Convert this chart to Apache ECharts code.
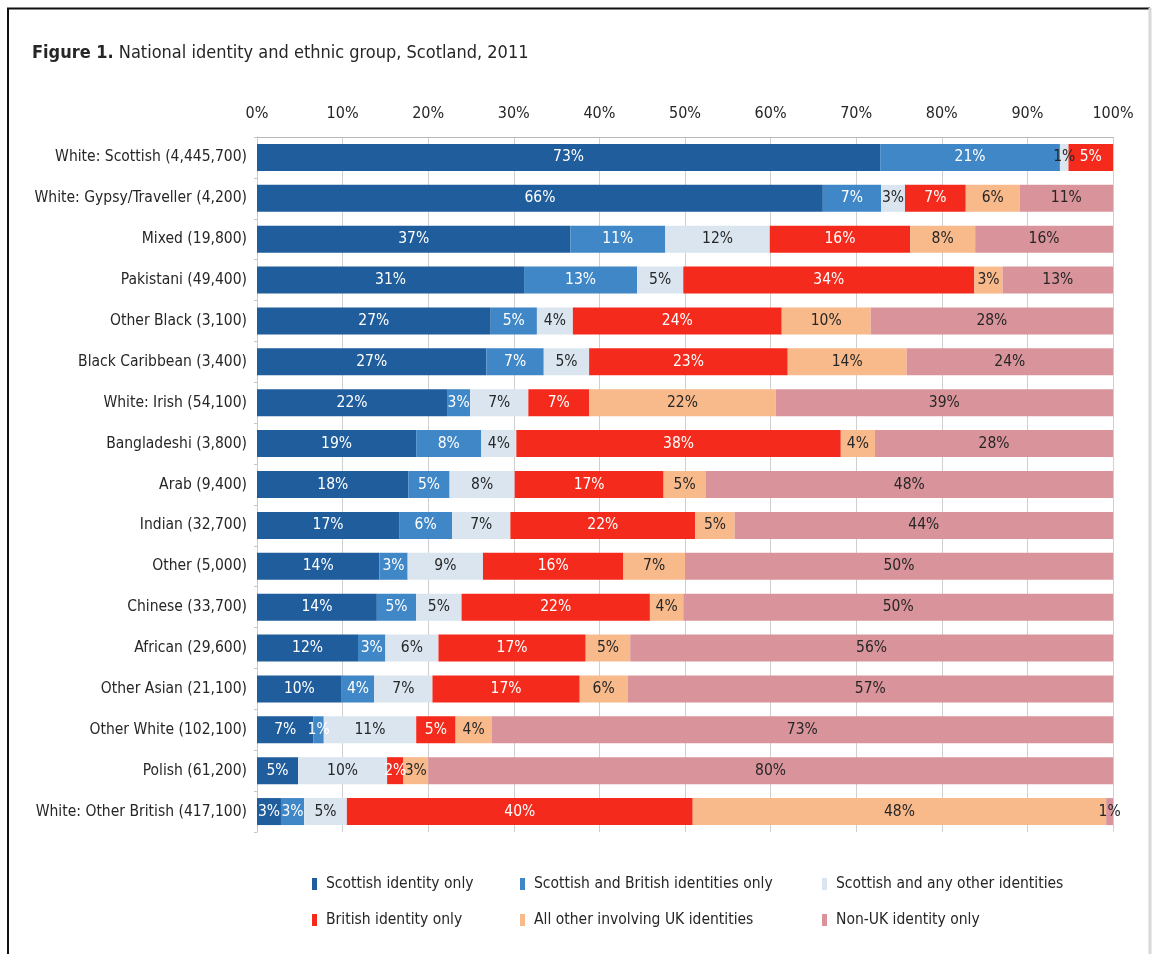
<!DOCTYPE html>
<html>
<head>
<meta charset="utf-8">
<script src="https://cdn.jsdelivr.net/npm/echarts@6/dist/echarts.min.js"></script>
<style>
html, body { margin: 0; padding: 0; background: #ffffff; }
#chart { width: 1161px; height: 954px; }
</style>
</head>
<body>
<div id="chart"></div>
<script>
const categories = [
  'White: Scottish (4,445,700)', 'White: Gypsy/Traveller (4,200)', 'Mixed (19,800)',
  'Pakistani (49,400)', 'Other Black (3,100)', 'Black Caribbean (3,400)',
  'White: Irish (54,100)', 'Bangladeshi (3,800)', 'Arab (9,400)', 'Indian (32,700)',
  'Other (5,000)', 'Chinese (33,700)', 'African (29,600)', 'Other Asian (21,100)',
  'Other White (102,100)', 'Polish (61,200)', 'White: Other British (417,100)'
];
const seriesNames = [
  'Scottish identity only', 'Scottish and British identities only',
  'Scottish and any other identities', 'British identity only',
  'All other involving UK identities', 'Non-UK identity only'
];
const scottishOnly    = [72.8, 66.1, 36.6, 31.2, 27.3, 26.8, 22.2, 18.6, 17.7, 16.6, 14.3, 14.0, 11.8, 9.9, 6.6, 4.8, 2.8];
const scottishBritish = [21.0, 6.8, 11.1, 13.2, 5.4, 6.7, 2.7, 7.6, 4.8, 6.2, 3.3, 4.6, 3.2, 3.8, 1.2, 0, 2.7];
const scottishOther   = [1.0, 2.8, 12.2, 5.4, 4.2, 5.3, 6.8, 4.1, 7.6, 6.8, 8.8, 5.3, 6.2, 6.8, 10.8, 10.4, 5.0];
const britishOnly     = [5.2, 7.1, 16.4, 34.0, 24.4, 23.2, 7.1, 37.9, 17.4, 21.6, 16.4, 22.0, 17.2, 17.2, 4.6, 1.9, 40.4];
const otherUK         = [0, 6.3, 7.6, 3.3, 10.4, 13.9, 21.8, 4.0, 4.9, 4.6, 7.2, 3.9, 5.2, 5.6, 4.2, 2.9, 48.3];
const nonUK           = [0, 10.9, 16.1, 12.9, 28.3, 24.1, 39.4, 27.8, 47.6, 44.2, 50.0, 50.2, 56.4, 56.7, 72.6, 80.0, 0.8];
const xTicks = [0, 10, 20, 30, 40, 50, 60, 70, 80, 90, 100];

const FONT = "'Liberation Sans Narrow', 'DejaVu Sans Condensed', sans-serif";
const colors = ['#1f5d9c', '#3f87c6', '#dae5f0', '#f42a1c', '#f8b98b', '#d9939b'];
const labelColors = ['#ffffff', '#ffffff', '#262626', '#ffffff', '#262626', '#262626'];
const allData = [scottishOnly, scottishBritish, scottishOther, britishOnly, otherUK, nonUK];

const series = allData.map((d, i) => ({
  name: seriesNames[i],
  type: 'bar',
  stack: 'total',
  data: d,
  barWidth: 27,
  itemStyle: { color: colors[i] },
  label: {
    show: true,
    position: 'inside',
    color: labelColors[i],
    fontFamily: FONT,
    fontSize: 15.5,
    formatter: p => (Math.round(p.value) > 0 ? Math.round(p.value) + '%' : '')
  },
  emphasis: { disabled: true }
}));

const legendPos = [
  [312, 876], [520, 876], [822, 876],
  [312, 912], [520, 912], [822, 912]
];
const legends = seriesNames.map((n, i) => ({
  data: [n],
  left: legendPos[i][0],
  top: legendPos[i][1],
  padding: 0,
  itemWidth: 5,
  itemHeight: 12,
  itemGap: 0,
  icon: 'rect',
  selectedMode: false,
  textStyle: { fontFamily: FONT, fontSize: 15.5, color: '#262626', padding: [0, 0, 0, 4] }
}));

const chart = echarts.init(document.getElementById('chart'), null, { renderer: 'canvas' });
chart.setOption({
  animation: false,
  backgroundColor: '#ffffff',
  color: colors,
  title: {
    text: '{b|Figure 1.} {n|National identity and ethnic group, Scotland, 2011}',
    left: 27,
    top: 39,
    textStyle: {
      rich: {
        b: { fontFamily: FONT, fontSize: 18, fontWeight: 'bold', color: '#262626' },
        n: { fontFamily: FONT, fontSize: 18, fontWeight: 'normal', color: '#262626' }
      }
    }
  },
  legend: legends,
  grid: { left: 257, right: 48, top: 137, bottom: 122, containLabel: false, outerBoundsMode: 'none' },
  xAxis: {
    type: 'value',
    position: 'top',
    min: xTicks[0],
    max: xTicks[xTicks.length - 1],
    interval: xTicks[1] - xTicks[0],
    axisLine: { show: true, lineStyle: { color: '#b8b8b8', width: 1 } },
    axisTick: { show: false },
    axisLabel: {
      formatter: '{value}%',
      fontFamily: FONT,
      fontSize: 16,
      color: '#262626',
      margin: 15
    },
    splitLine: { show: true, lineStyle: { color: '#cfcfcf', width: 1 } }
  },
  yAxis: {
    type: 'category',
    data: categories,
    inverse: true,
    axisLine: { show: true, lineStyle: { color: '#c8c8c8' } },
    axisTick: { show: true, length: 3, lineStyle: { color: '#c8c8c8' } },
    axisLabel: { fontFamily: FONT, fontSize: 15.5, color: '#262626', margin: 10 }
  },
  series: series,
  graphic: [
    { type: 'polyline', shape: { points: [[8, 954], [8, 8.5], [1150, 8.5]] }, style: { stroke: '#111111', lineWidth: 2, fill: null }, silent: true },
    { type: 'line', shape: { x1: 1150, y1: 8, x2: 1150, y2: 954 }, style: { stroke: '#d8d8d8', lineWidth: 3 }, silent: true }
  ]
});
</script>
</body>
</html>
